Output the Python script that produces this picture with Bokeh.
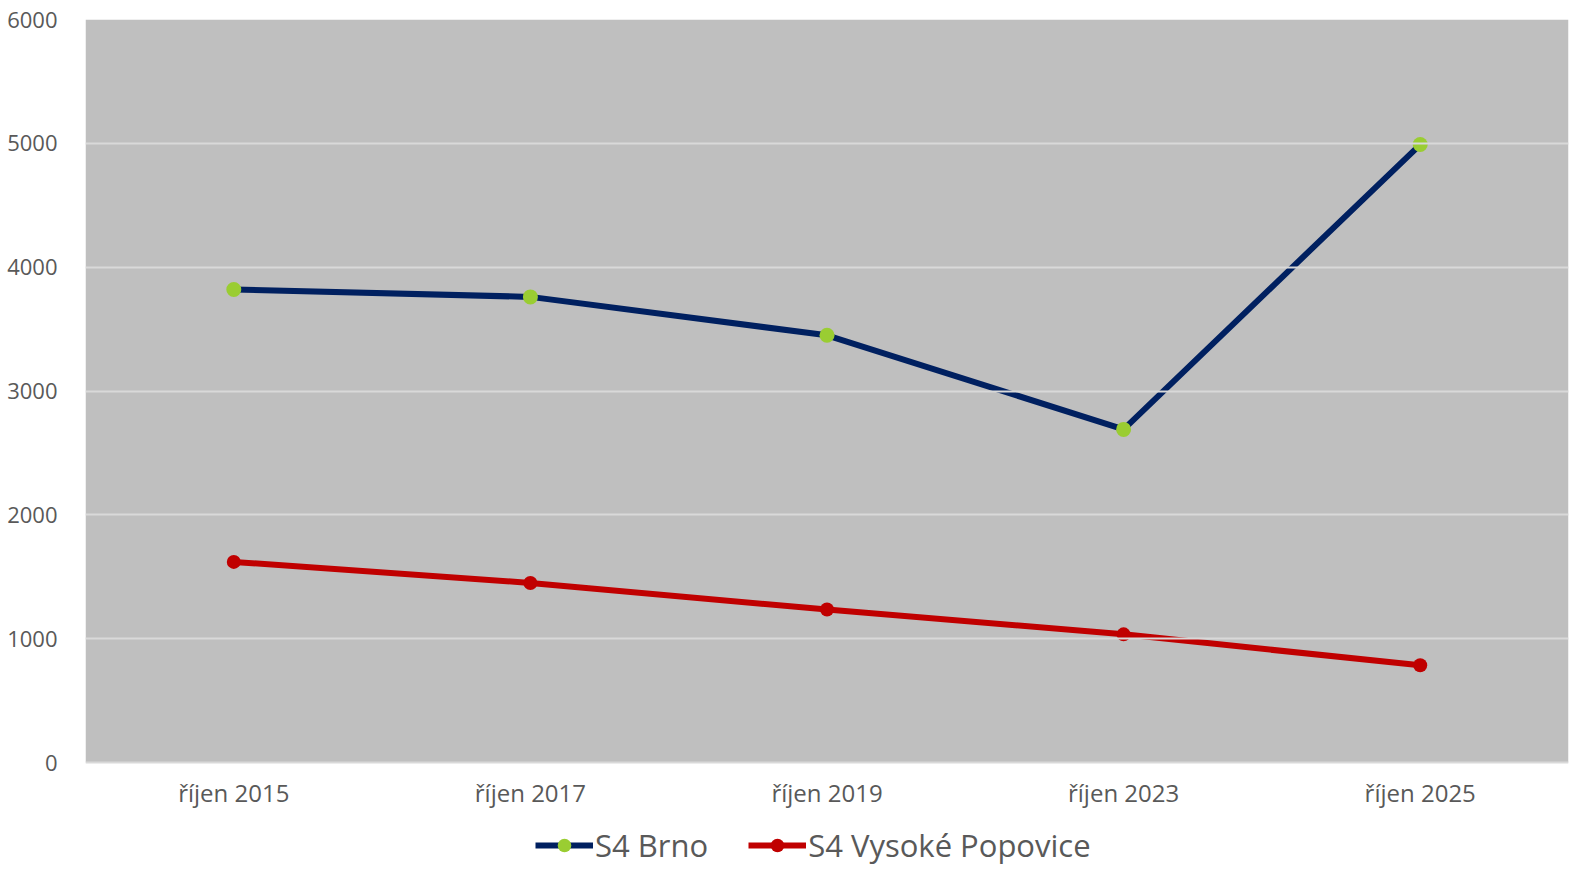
from bokeh.plotting import figure
from bokeh.models import (FactorRange, Range1d, Legend, LegendItem, FixedTicker,
                          ColumnDataSource, BoxAnnotation)
from bokeh.core.properties import value
from bokeh.embed import file_html
from bokeh.resources import INLINE

categories = ["říjen 2015", "říjen 2017", "říjen 2019", "říjen 2023", "říjen 2025"]
brno = [3820, 3760, 3450, 2690, 4990]
vysoke = [1620, 1450, 1235, 1035, 785]
series_names = ["S4 Brno", "S4 Vysoké Popovice"]
y_ticks = [0, 1000, 2000, 3000, 4000, 5000, 6000]

FONT = "Open Sans"
TXT = "#595959"

# layout: value axis 0..6000 spans PLOT_H px; extra frame space below holds labels + legend
PLOT_H = 743
FRAME_H = 847
Y_MAX = 6000
Y_MIN = -Y_MAX * (FRAME_H - PLOT_H) / PLOT_H

p = figure(x_range=FactorRange(*categories, range_padding=0), y_range=Range1d(Y_MIN, Y_MAX),
           frame_width=1483, frame_height=FRAME_H, output_backend="svg", toolbar_location=None,
           x_axis_location=None,
           min_border_left=85, min_border_top=19, min_border_right=7, min_border_bottom=0)
p.background_fill_color = "white"
p.border_fill_color = "white"
p.outline_line_color = None

# grey plot area (0..6000)
box = BoxAnnotation(bottom=0, top=Y_MAX, fill_color="#BFBFBF", fill_alpha=1.0,
                    line_color=None, level="underlay")
p.center = [box] + list(p.center)

p.yaxis.ticker = FixedTicker(ticks=y_ticks)
p.ygrid.grid_line_color = "#D9D9D9"
p.ygrid.grid_line_width = 2
p.ygrid.level = "glyph"
p.xgrid.grid_line_color = None

p.yaxis.major_tick_line_color = None
p.yaxis.minor_tick_line_color = None
p.yaxis.axis_line_color = None
p.yaxis.major_label_text_font = FONT
p.yaxis.major_label_text_color = TXT
p.yaxis.major_label_text_font_size = "22px"
p.yaxis.major_label_standoff = 22

src = ColumnDataSource(dict(x=categories, brno=brno, vys=vysoke, base=[0] * len(categories)))

# category labels under the value axis
p.text("x", "base", text="x", source=src, y_offset=30, text_align="center",
       text_baseline="middle", text_font=value(FONT), text_font_size="24px", text_color=TXT)

l1 = p.line("x", "brno", source=src, line_color="#002060", line_width=6)
m1 = p.scatter("x", "brno", source=src, size=15, fill_color="#9ACD32", line_color=None)
l2 = p.line("x", "vys", source=src, line_color="#C00000", line_width=6)
m2 = p.scatter("x", "vys", source=src, size=14, fill_color="#C00000", line_color=None)

legend = Legend(items=[LegendItem(label=series_names[0], renderers=[l1, m1]),
                       LegendItem(label=series_names[1], renderers=[l2, m2])],
                orientation="horizontal", location=(450, 0),
                label_text_font=FONT, label_text_font_size="31px", label_text_color=TXT,
                glyph_width=58, glyph_height=34, label_standoff=2, spacing=40,
                border_line_color=None, background_fill_alpha=0, padding=0, margin=0)
p.add_layout(legend)

open("out.html", "w").write(file_html(p, INLINE))
